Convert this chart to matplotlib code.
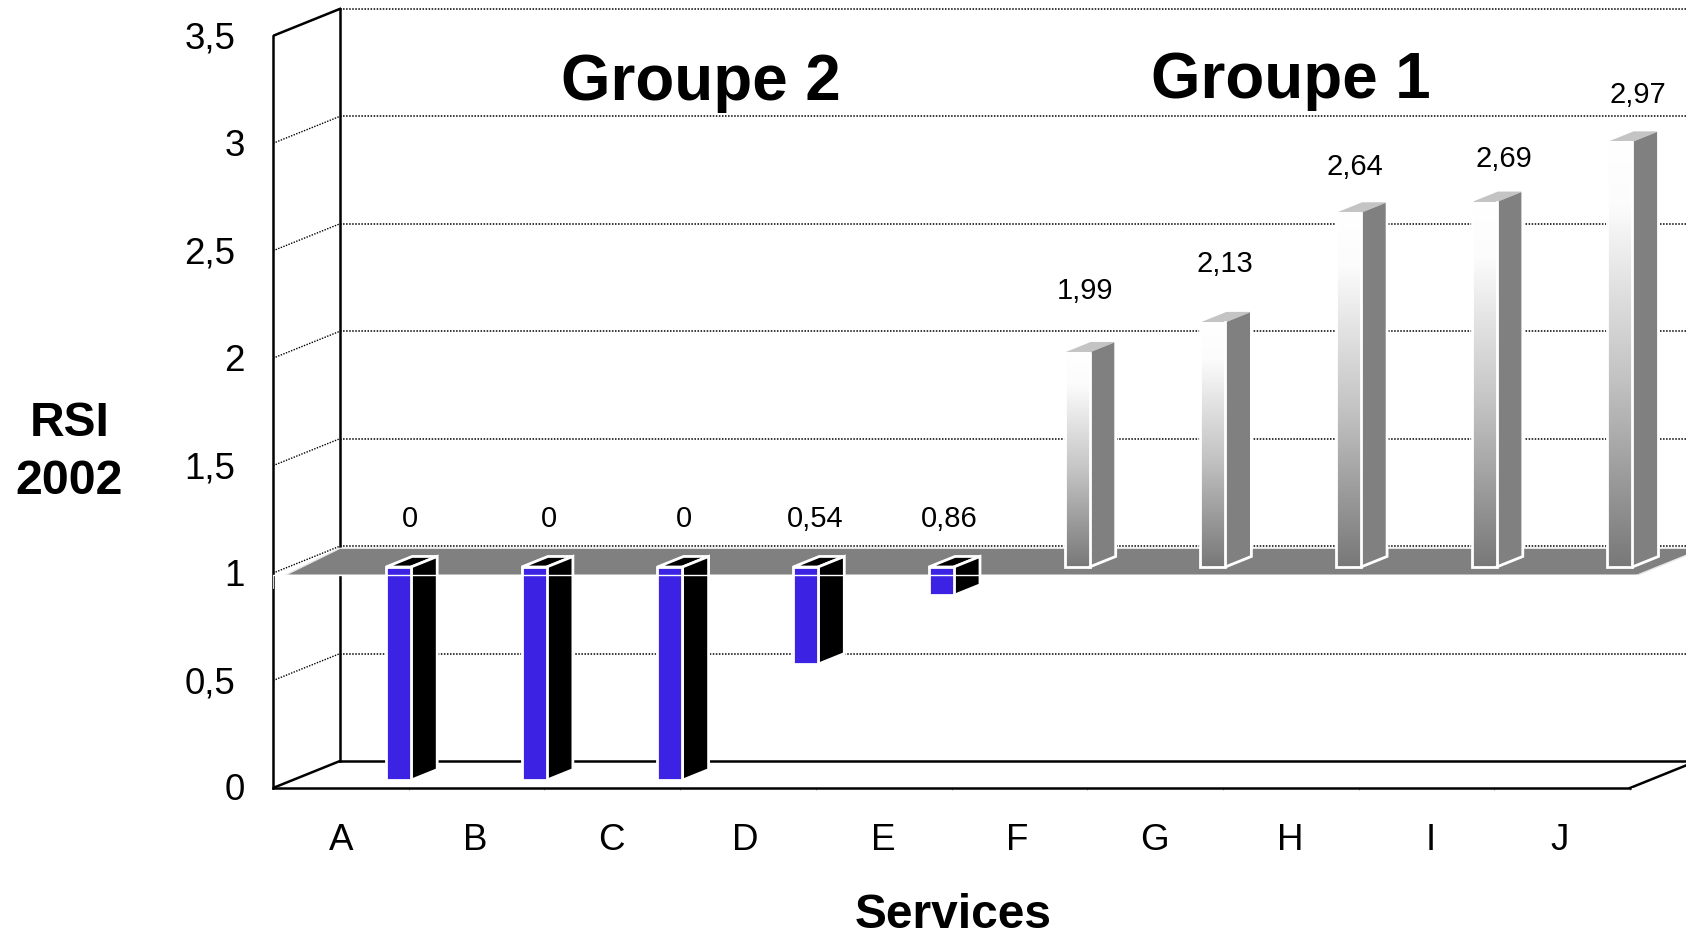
import numpy as np
import matplotlib
matplotlib.use("Agg")
import matplotlib.pyplot as plt
from matplotlib.colors import LinearSegmentedColormap
from matplotlib.transforms import ScaledTranslation

plt.rcParams['font.family'] = ['Liberation Sans', 'DejaVu Sans']

# data
services = ['A', 'B', 'C', 'D', 'E', 'F', 'G', 'H', 'I', 'J']
rsi = [0, 0, 0, 0.54, 0.86, 1.99, 2.13, 2.64, 2.69, 2.97]
rsi_labels = ['0', '0', '0', '0,54', '0,86', '1,99', '2,13', '2,64', '2,69', '2,97']
y_values = [0, 0.5, 1, 1.5, 2, 2.5, 3, 3.5]
y_labels = ['0', '0,5', '1', '1,5', '2', '2,5', '3', '3,5']

# layout, in pixels of the 1686x934 picture
W, H = 1686, 934
x0_px, y0_px = 273, 788
step_px, unit_px = 135.7, 214.9
depth_x, depth_y = 67 / step_px, 27 / unit_px
label_x_px = [410, 549, 684, 815, 949, 1085, 1225, 1355, 1504, 1638]
label_y_px = [519, 519, 519, 519, 519, 291, 264, 167, 159, 95]
service_x_px = [341, 475, 611, 745, 883, 1017, 1154, 1290, 1431, 1560]

baseline = 0.992
bar_left = 0.69
bar_w = 25 / step_px
bar_front = 0.29
bar_deep = 0.39
plane_y = 0.99
blue = '#3C23E3'
gray = '#808080'
line_w = 1.8
edge_w = 2.0

fig = plt.figure(figsize=(W / 100, H / 100), dpi=100)
ax = fig.add_axes([x0_px / W, (H - y0_px) / H, (W - x0_px) / W, y0_px / H])
ax.set_xlim(0, (W - x0_px) / step_px)
ax.set_ylim(0, y0_px / unit_px)
xmax = ax.get_xlim()[1]


def proj(x, y, d=0.0):
    # d is the depth, 0 = front of the box, 1 = back wall
    return x + d * depth_x, y + d * depth_y


def poly(pts, **kw):
    ax.fill([p[0] for p in pts], [p[1] for p in pts], **kw)


def px_text(x, y, s, **kw):
    fig.text(x / W, 1 - y / H, s, ha='center', va='center', **kw)


# dotted grid on side wall and back wall
for v in y_values[1:]:
    ax.plot(*zip(proj(0, v), proj(0, v, 1)), color='k', lw=1.0, ls=(0, (1, 1)), zorder=1)
    ax.plot(*zip(proj(0, v, 1), proj(xmax, v, 1)), color='k', lw=1.1, ls=(0, (1, 1)), zorder=1)

# box lines
ax.plot(*zip(proj(0, 0, 1), proj(0, 3.5, 1)), color='k', lw=line_w, zorder=2)
ax.plot(*zip(proj(0, 3.5), proj(0, 3.5, 1)), color='k', lw=line_w, zorder=2)
ax.plot(*zip(proj(0, 0), proj(0, 0, 1)), color='k', lw=line_w, zorder=2)
ax.plot(*zip(proj(0, 0, 1), proj(xmax, 0, 1)), color='k', lw=line_w, zorder=2)
ax.plot(*zip(proj(10, 0), proj(10, 0, 1)), color='k', lw=line_w, zorder=2)

# grey plane at RSI = 1
floor_l, floor_r = 0.09, 10.05
poly([proj(floor_l, plane_y), proj(floor_r, plane_y), proj(floor_r, plane_y, 1), proj(0, plane_y, 1)],
     facecolor=gray, edgecolor='#E6E6E6', lw=1, zorder=3)

grad = LinearSegmentedColormap.from_list('bar_grad', [(0, '#FFFFFF'), (0.15, '#FCFCFC'),
                                                      (0.55, '#C4C4C4'), (1, '#787878')])

# bars
for i, val in enumerate(rsi):
    xl = i + bar_left
    xr = xl + bar_w
    z = 4 + i * 0.1
    if val >= baseline:
        a = proj(xl, baseline, bar_front)
        b = proj(xr, baseline, bar_front)
        c = proj(xr, val, bar_front)
        e = proj(xr, baseline, bar_front + bar_deep)
        f = proj(xr, val, bar_front + bar_deep)
        g = proj(xl, val, bar_front)
        h = proj(xl, val, bar_front + bar_deep)
        poly([c, f, h, g], facecolor='#C4C4C4', edgecolor='none', zorder=z)
        poly([b, e, f, c], facecolor=gray, edgecolor='none', zorder=z)
        ax.imshow(np.linspace(0, 1, 256).reshape(-1, 1), cmap=grad, aspect='auto',
                  extent=(a[0], b[0], a[1], c[1]), zorder=z, origin='upper')
        ax.plot(*zip(g, a, b, c), color='white', lw=edge_w, zorder=z + 0.01, solid_joinstyle='miter')
        ax.plot(*zip(b, e, f), color='white', lw=edge_w, zorder=z + 0.01, solid_joinstyle='miter')
    else:
        a = proj(xl, val, bar_front)
        b = proj(xr, val, bar_front)
        c = proj(xr, baseline, bar_front)
        g = proj(xl, baseline, bar_front)
        e = proj(xr, val, bar_front + bar_deep)
        f = proj(xr, baseline, bar_front + bar_deep)
        h = proj(xl, baseline, bar_front + bar_deep)
        poly([c, f, h, g], facecolor='k', edgecolor='white', lw=edge_w, zorder=z)
        poly([b, e, f, c], facecolor='k', edgecolor='white', lw=edge_w, zorder=z)
        poly([a, b, c, g], facecolor=blue, edgecolor='white', lw=edge_w, zorder=z)

ax.set_xlim(0, (W - x0_px) / step_px)
ax.set_ylim(0, y0_px / unit_px)

# white line where the plane meets the front
ax.plot([0, floor_r], [plane_y, plane_y], color='white', lw=1, zorder=6)
ax.plot([0, 0], [plane_y, 0.93], color='white', lw=0.6, zorder=6, clip_on=False)

# real axes for the front edge
for s in ['top', 'right']:
    ax.spines[s].set_visible(False)
ax.patch.set_visible(False)
ax.spines['left'].set_bounds(0, 3.5)
ax.spines['bottom'].set_bounds(0, 10)
ax.spines['left'].set_linewidth(line_w)
ax.spines['bottom'].set_linewidth(line_w)
ax.set_yticks(y_values)
ax.set_yticklabels(y_labels, fontsize=26.5)
ax.set_xticks([(p - x0_px) / step_px for p in service_x_px])
ax.set_xticklabels(services, fontsize=26.5)
ax.set_xticks(np.arange(1, 11), minor=True)
ax.tick_params(axis='y', length=0, pad=27)
ax.tick_params(axis='x', which='major', length=0, pad=25)
ax.tick_params(axis='x', which='minor', length=1.5, width=0.8, color='#AAAAAA')

# the tick labels sit a bit higher, whole numbers further right
for lab, s in zip(ax.get_yticklabels(), y_labels):
    dx = 0 if ',' in s else 9
    lab.set_transform(lab.get_transform() + ScaledTranslation(dx / 100, 1 / 100, fig.dpi_scale_trans))

for x, y, s in zip(label_x_px, label_y_px, rsi_labels):
    px_text(x, y, s, fontsize=21)

px_text(701, 83, 'Groupe 2', fontsize=45.8, fontweight='bold')
px_text(1291, 81, 'Groupe 1', fontsize=45.8, fontweight='bold')
px_text(70, 423, 'RSI', fontsize=34.5, fontweight='bold')
px_text(69, 481, '2002', fontsize=34.8, fontweight='bold')
px_text(953, 915, 'Services', fontsize=34.5, fontweight='bold')

fig.savefig('out.png', dpi=100)
